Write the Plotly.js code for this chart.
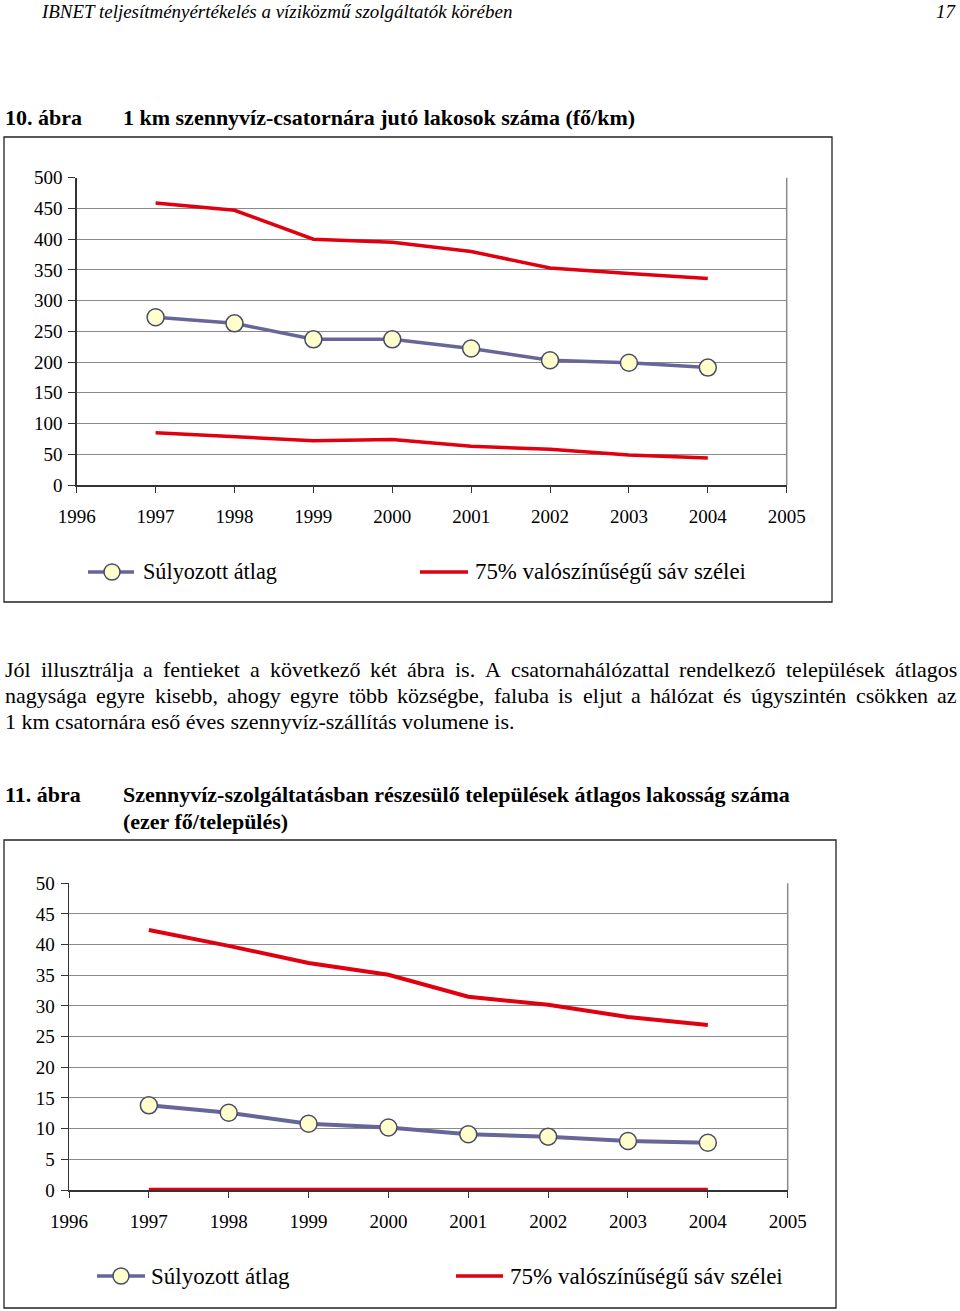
<!DOCTYPE html>
<html><head><meta charset="utf-8">
<script src="https://cdn.plot.ly/plotly-3.0.1.min.js"></script>
<style>html,body{margin:0;padding:0;background:#fff}</style>
</head><body><div id="chart" style="width:960px;height:1311px"></div>
<script>
// ---- data ----
const years = [1997, 1998, 1999, 2000, 2001, 2002, 2003, 2004];
const xTickYears = [1996, 1997, 1998, 1999, 2000, 2001, 2002, 2003, 2004, 2005];
const c1Mean = [273, 263, 237, 237, 222, 203, 199, 191];
const c1Upper = [459, 447, 400, 395, 380, 353, 344, 336];
const c1Lower = [85, 78, 72, 74, 63, 58, 49, 44];
const c1YTicks = [0, 50, 100, 150, 200, 250, 300, 350, 400, 450, 500];
const c2Mean = [13.8, 12.6, 10.8, 10.2, 9.1, 8.7, 8.0, 7.7];
const c2Upper = [42.4, 39.8, 37.0, 35.1, 31.5, 30.2, 28.2, 26.9];
const c2Lower = [0, 0, 0, 0, 0, 0, 0, 0];
const c2YTicks = [0, 5, 10, 15, 20, 25, 30, 35, 40, 45, 50];
const seriesNames = ["Súlyozott átlag", "75% valószínűségű sáv szélei"];
const headerText = "IBNET teljesítményértékelés a víziközmű szolgáltatók körében";
const pageNo = "17";
const fig1Label = "10. ábra";
const fig1Title = "1 km szennyvíz-csatornára jutó lakosok száma (fő/km)";
const fig2Label = "11. ábra";
const fig2Title1 = "Szennyvíz-szolgáltatásban részesülő települések átlagos lakosság száma";
const fig2Title2 = "(ezer fő/település)";
const paraLines = [
  "Jól illusztrálja a fentieket a következő két ábra is. A csatornahálózattal rendelkező települések átlagos",
  "nagysága egyre kisebb, ahogy egyre több községbe, faluba is eljut a hálózat és úgyszintén csökken az",
  "1 km csatornára eső éves szennyvíz-szállítás volumene is."
];

// ---- helpers ----
const W = 960, H = 1311;
const FONT = "'Liberation Serif', 'Times New Roman', Times, Tinos, serif";
const px = x => x / W;
const py = y => 1 - y / H;
const ctx = document.createElement('canvas').getContext('2d');
function tw(text, size, style) { ctx.font = (style || '') + ' ' + size + 'px ' + FONT; return ctx.measureText(text).width; }
function fit(text, target, style, lo, hi) { let s = 20 * target / tw(text, 20, style); return Math.max(lo, Math.min(hi, s)); }

const RED = '#e0000f', MEAN = '#666699', MFILL = '#ffffcc', MLINE = '#4a4a6a';
const GRID = '#8a8a8a', AXIS = '#333333';
const tickFont = {family: FONT, size: 19, color: '#000'};

const annotations = [];
function txt(text, x, y, size, opts) {
  opts = opts || {};
  annotations.push(Object.assign({
    text: text, xref: 'paper', yref: 'paper', x: px(x), y: py(y),
    xanchor: 'left', yanchor: 'middle', showarrow: false, borderpad: 0,
    font: {family: FONT, size: size, color: '#000'}
  }, opts));
}

// header
const hSize = fit(headerText, 471, 'italic', 15, 19);
txt('<i>' + headerText + '</i>', 40, 0, hSize, {yanchor: 'top'});
txt('<i>' + pageNo + '</i>', 957, 0, hSize, {xanchor: 'right', yanchor: 'top'});
// figure titles
const t1Size = fit(fig1Title, 537, 'bold', 17, 22);
txt('<b>' + fig1Label + '</b>', 4, 117, t1Size);
txt('<b>' + fig1Title + '</b>', 122, 117, t1Size);
const t2Size = fit(fig2Title1, 699, 'bold', 17, 22);
txt('<b>' + fig2Label + '</b>', 4, 794, t2Size);
txt('<b>' + fig2Title1 + '</b>', 122, 794, t2Size);
txt('<b>' + fig2Title2 + '</b>', 122, 821, t2Size);
// paragraph (justified lines 1-2)
const pSize = fit(paraLines[2], 534, '', 18, 22);
const paraY = [669, 695, 721];
paraLines.forEach((line, i) => {
  if (i === 2) { txt(line, 4, paraY[i], pSize); return; }
  const words = line.split(' ');
  const widths = words.map(w => tw(w, pSize));
  const total = widths.reduce((a, b) => a + b, 0);
  const gap = (952 - total) / (words.length - 1);
  let x = 4;
  words.forEach((w, j) => { txt(w, x, paraY[i], pSize); x += widths[j] + gap; });
});

// legends (drawn manually)
const shapes = [];
function legend(y, meanX0, meanX1, mcx, mText, redX0, redX1, rText, mTarget, rTarget) {
  shapes.push({type: 'line', xref: 'paper', yref: 'paper', x0: px(meanX0), x1: px(meanX1), y0: py(y), y1: py(y), line: {color: MEAN, width: 3.5}});
  shapes.push({type: 'circle', xref: 'paper', yref: 'paper', x0: px(mcx - 8), x1: px(mcx + 8), y0: py(y - 8), y1: py(y + 8), fillcolor: MFILL, line: {color: MLINE, width: 1.5}});
  shapes.push({type: 'line', xref: 'paper', yref: 'paper', x0: px(redX0), x1: px(redX1), y0: py(y), y1: py(y), line: {color: RED, width: 3.5}});
  txt(seriesNames[0], mText, y, fit(seriesNames[0], mTarget, '', 17, 23));
  txt(seriesNames[1], rText, y, fit(seriesNames[1], rTarget, '', 17, 23));
}
legend(572, 88, 134, 112, 142, 420, 468, 474, 134, 271);
legend(1276, 97, 145, 121, 150, 456, 503, 509, 139, 274);

// chart frames
shapes.push({type: 'rect', xref: 'paper', yref: 'paper', x0: px(4), x1: px(832), y0: py(137), y1: py(602), line: {color: '#222', width: 1.3}});
shapes.push({type: 'rect', xref: 'paper', yref: 'paper', x0: px(4), x1: px(836), y0: py(840), y1: py(1308), line: {color: '#222', width: 1.3}});
// plot-area right borders
shapes.push({type: 'line', xref: 'x domain', yref: 'y domain', x0: 1, x1: 1, y0: 0, y1: 1, line: {color: GRID, width: 1.5}});
shapes.push({type: 'line', xref: 'x2 domain', yref: 'y2 domain', x0: 1, x1: 1, y0: 0, y1: 1, line: {color: GRID, width: 1.5}});

function xAxis(domain, anchor) {
  return {domain: domain, anchor: anchor, range: [1996, 2005], tickmode: 'array', tickvals: xTickYears,
    ticktext: xTickYears.map(String), ticks: 'outside', ticklen: 6, tickwidth: 1, tickcolor: AXIS,
    showline: true, linecolor: AXIS, linewidth: 1.5, showgrid: false, zeroline: false,
    tickfont: tickFont, ticklabelstandoff: 8, fixedrange: true};
}
function yAxis(domain, anchor, range, ticks) {
  return {domain: domain, anchor: anchor, range: range, tickmode: 'array', tickvals: ticks,
    ticktext: ticks.map(String), ticks: 'outside', ticklen: 7, tickwidth: 1, tickcolor: AXIS,
    showline: true, linecolor: AXIS, linewidth: 1.5, showgrid: true, gridcolor: GRID, gridwidth: 1,
    zeroline: false, tickfont: tickFont, ticklabelstandoff: 2, fixedrange: true};
}

const traces = [
  {x: years, y: c1Upper, xaxis: 'x', yaxis: 'y', mode: 'lines', name: seriesNames[1], line: {color: RED, width: 3.5}, cliponaxis: false},
  {x: years, y: c1Lower, xaxis: 'x', yaxis: 'y', mode: 'lines', name: seriesNames[1], line: {color: RED, width: 3.5}, cliponaxis: false},
  {x: years, y: c1Mean, xaxis: 'x', yaxis: 'y', mode: 'lines+markers', name: seriesNames[0], line: {color: MEAN, width: 3.5},
    marker: {symbol: 'circle', size: 17, color: MFILL, line: {color: MLINE, width: 1.5}}, cliponaxis: false},
  {x: years, y: c2Upper, xaxis: 'x2', yaxis: 'y2', mode: 'lines', name: seriesNames[1], line: {color: RED, width: 4}, cliponaxis: false},
  {x: years, y: c2Lower, xaxis: 'x2', yaxis: 'y2', mode: 'lines', name: seriesNames[1], line: {color: RED, width: 4.5}, cliponaxis: false},
  {x: years, y: c2Mean, xaxis: 'x2', yaxis: 'y2', mode: 'lines+markers', name: seriesNames[0], line: {color: MEAN, width: 4},
    marker: {symbol: 'circle', size: 17, color: MFILL, line: {color: MLINE, width: 1.5}}, cliponaxis: false}
];

const layout = {
  width: W, height: H, margin: {l: 0, r: 0, t: 0, b: 0}, showlegend: false,
  paper_bgcolor: '#fff', plot_bgcolor: '#fff', font: {family: FONT, color: '#000'},
  xaxis: xAxis([px(76.7), px(786.7)], 'y'),
  yaxis: yAxis([py(485), py(177.7)], 'x', [0, 500], c1YTicks),
  xaxis2: xAxis([px(69), px(787.7)], 'y2'),
  yaxis2: yAxis([py(1190), py(883.3)], 'x2', [0, 50], c2YTicks),
  shapes: shapes, annotations: annotations
};
Plotly.newPlot('chart', traces, layout, {staticPlot: true, displayModeBar: false});
</script></body></html>
